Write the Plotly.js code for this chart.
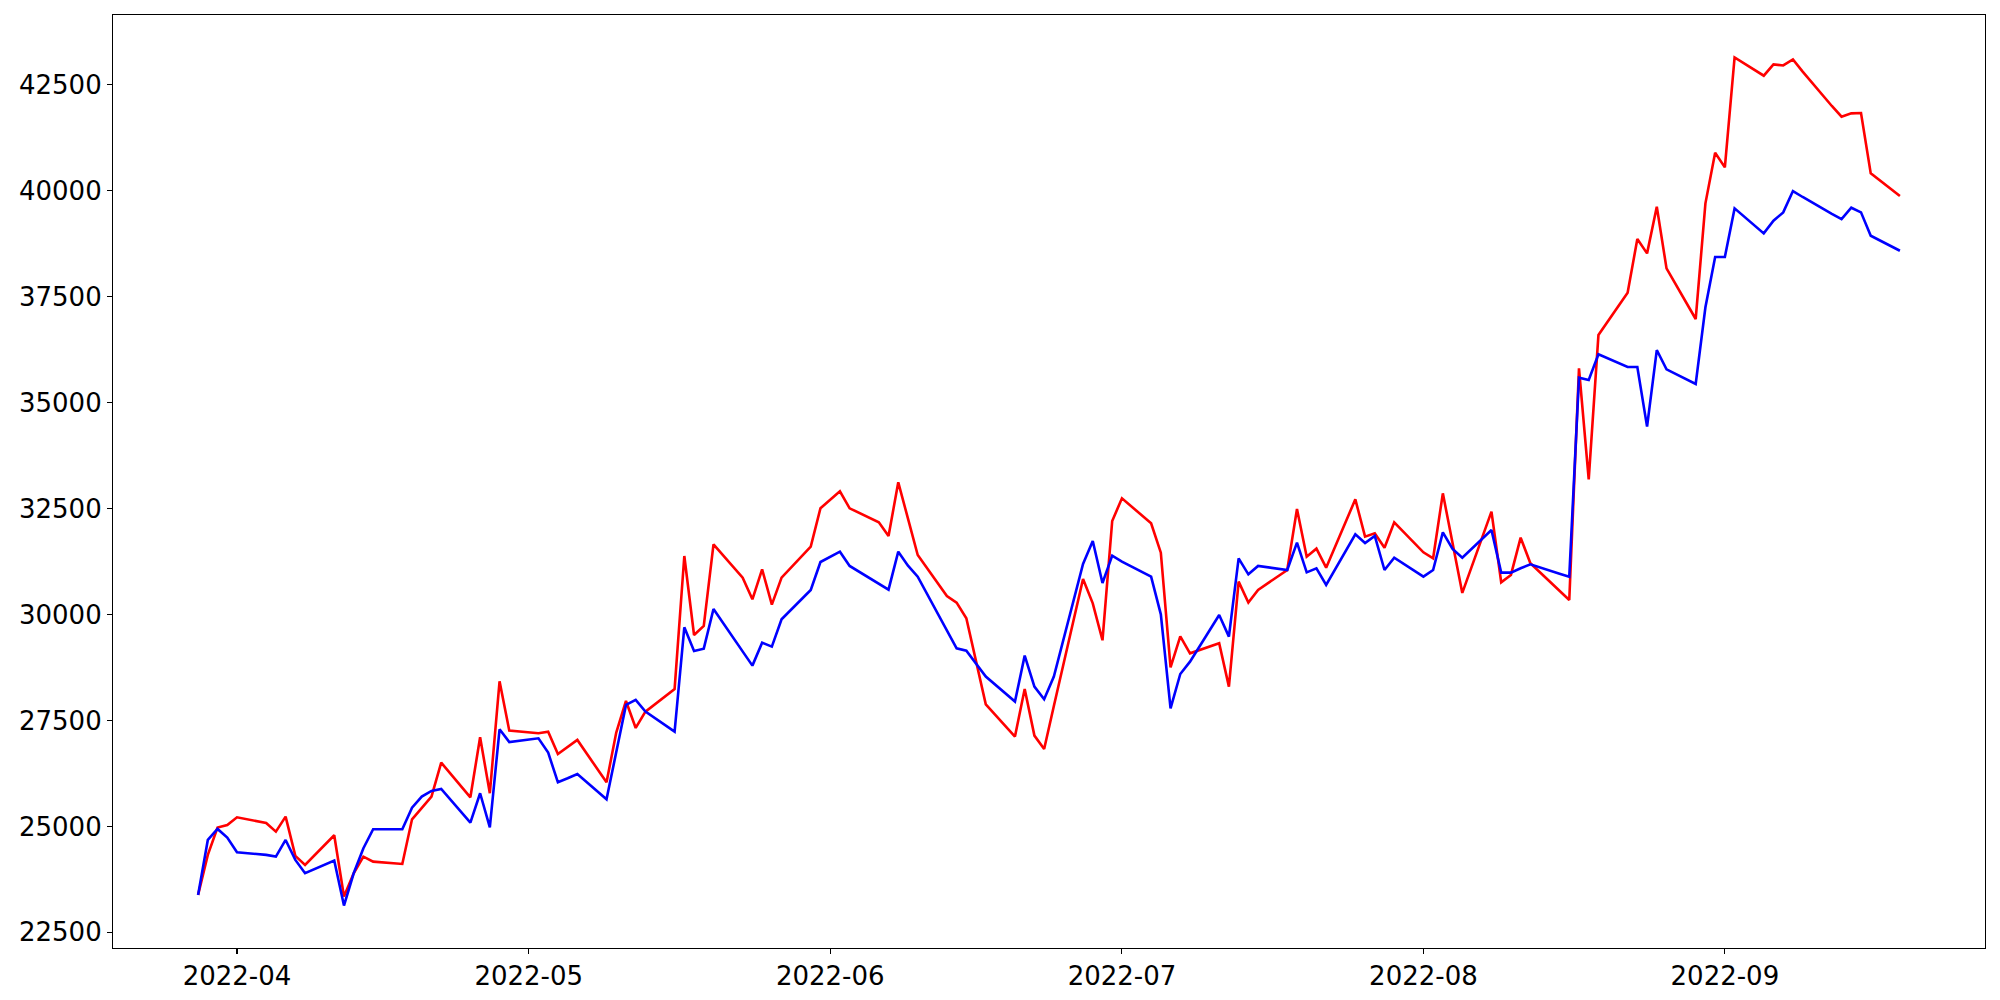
<!DOCTYPE html>
<html>
<head>
<meta charset="utf-8">
<script src="https://cdn.plot.ly/plotly-3.0.1.min.js"></script>
<style>
  html, body { margin: 0; padding: 0; background: #ffffff; }
  #chart { width: 2000px; height: 1000px; }
</style>
</head>
<body>
<div id="chart"></div>
<script>
// Trading dates (weekdays)
const dates = [
  "2022-03-28","2022-03-29","2022-03-30","2022-03-31","2022-04-01",
  "2022-04-04","2022-04-05","2022-04-06","2022-04-07","2022-04-08",
  "2022-04-11","2022-04-12","2022-04-13","2022-04-14","2022-04-15",
  "2022-04-18","2022-04-19","2022-04-20","2022-04-21","2022-04-22",
  "2022-04-25","2022-04-26","2022-04-27","2022-04-28","2022-04-29",
  "2022-05-02","2022-05-03","2022-05-04","2022-05-05","2022-05-06",
  "2022-05-09","2022-05-10","2022-05-11","2022-05-12","2022-05-13",
  "2022-05-16","2022-05-17","2022-05-18","2022-05-19","2022-05-20",
  "2022-05-23","2022-05-24","2022-05-25","2022-05-26","2022-05-27",
  "2022-05-30","2022-05-31","2022-06-01","2022-06-02","2022-06-03",
  "2022-06-06","2022-06-07","2022-06-08","2022-06-09","2022-06-10",
  "2022-06-13","2022-06-14","2022-06-15","2022-06-16","2022-06-17",
  "2022-06-20","2022-06-21","2022-06-22","2022-06-23","2022-06-24",
  "2022-06-27","2022-06-28","2022-06-29","2022-06-30","2022-07-01",
  "2022-07-04","2022-07-05","2022-07-06","2022-07-07","2022-07-08",
  "2022-07-11","2022-07-12","2022-07-13","2022-07-14","2022-07-15",
  "2022-07-18","2022-07-19","2022-07-20","2022-07-21","2022-07-22",
  "2022-07-25","2022-07-26","2022-07-27","2022-07-28","2022-07-29",
  "2022-08-01","2022-08-02","2022-08-03","2022-08-04","2022-08-05",
  "2022-08-08","2022-08-09","2022-08-10","2022-08-11","2022-08-12",
  "2022-08-15","2022-08-16","2022-08-17","2022-08-18","2022-08-19",
  "2022-08-22","2022-08-23","2022-08-24","2022-08-25","2022-08-26",
  "2022-08-29","2022-08-30","2022-08-31","2022-09-01","2022-09-02",
  "2022-09-05","2022-09-06","2022-09-07","2022-09-08","2022-09-09",
  "2022-09-12","2022-09-13","2022-09-14","2022-09-15","2022-09-16",
  "2022-09-19"
];

// Red series
const redValues = [
  23383, 24327, 24971, 25034, 25215,
  25082, 24877, 25231, 24303, 24091,
  24791, 23344, 23894, 24287, 24169,
  24114, 25168, 25428, 25703, 26505,
  25687, 27103, 25782, 28424, 27260,
  27197, 27237, 26710, 26875, 27040,
  26041, 27213, 27960, 27323, 27709,
  28243, 31382, 29517, 29730, 31657,
  30870, 30359, 31067, 30233, 30870,
  31602, 32510, 32703, 32908, 32507,
  32176, 31854, 33120, 32263, 31405,
  30438, 30281, 29911, 28897, 27882,
  27119, 28244, 27143, 26828, 27843,
  30839, 30265, 29392, 32208, 32743,
  32153, 31460, 28755, 29486, 29085,
  29321, 28299, 30776, 30281, 30580,
  31051, 32491, 31366, 31555, 31106,
  32719, 31838, 31917, 31578, 32176,
  31468, 31327, 32860, 31688, 30510,
  32428, 30761, 30934, 31814, 31209,
  30564, 30344, 35810, 33191, 36596,
  37595, 38862, 38523, 39626, 38169,
  36974, 39703, 40899, 40553, 43148,
  42716, 42983, 42959, 43101, 42814,
  42002, 41748, 41827, 41835, 40411,
  39876
];

// Blue series
const blueValues = [
  23383, 24680, 24940, 24736, 24390,
  24327, 24287, 24680, 24209, 23894,
  24193, 23131, 23894, 24484, 24932,
  24932, 25443, 25703, 25837, 25884,
  25089, 25782, 24979, 27292, 26990,
  27079, 26741, 26041, 26136, 26238,
  25640, 26749, 27866, 27984, 27709,
  27237, 29698, 29140, 29195, 30131,
  29124, 28794, 29337, 29242, 29887,
  30580, 31240, 31366, 31484, 31146,
  30721, 30587, 31484, 31154, 30894,
  29620, 29203, 29148, 28841, 28535,
  27945, 29030, 28299, 28000, 28535,
  31193, 31736, 30745, 31390, 31248,
  30894, 30005, 27787, 28597, 28888,
  29990, 29478, 31327, 30949, 31146,
  31051, 31696, 30996, 31091, 30698,
  31893, 31688, 31854, 31051, 31342,
  30894, 31051, 31940, 31550, 31342,
  31995, 30989, 30989, 31091, 31185,
  30965, 30894, 35590, 35535, 36140,
  35841, 35841, 34434, 36242, 35786,
  35440, 37250, 38437, 38437, 39585,
  38995, 39294, 39491, 39994, 39854,
  39458, 39334, 39601, 39491, 38940,
  38586
];

// y tick labels
const yTickValues = [22500, 25000, 27500, 30000, 32500, 35000, 37500, 40000, 42500];

// Axis ranges with 5% margins (matplotlib default)
const tms = dates.map(d => Date.parse(d + "T00:00:00Z"));
const tmin = Math.min(...tms), tmax = Math.max(...tms);
const tpad = (tmax - tmin) * 0.05;
const allV = redValues.concat(blueValues);
const vmin = Math.min(...allV), vmax = Math.max(...allV);
const vpad = (vmax - vmin) * 0.05;
const toISO = ms => new Date(ms).toISOString().replace("T", " ").replace("Z", "");

const traces = [
  { type: "scatter", mode: "lines", x: dates, y: redValues,
    line: { color: "#ff0000", width: 2.6 }, showlegend: false, hoverinfo: "skip" },
  { type: "scatter", mode: "lines", x: dates, y: blueValues,
    line: { color: "#0000ff", width: 2.6 }, showlegend: false, hoverinfo: "skip" }
];

const font = { family: "DejaVu Sans, sans-serif", color: "#000000" };

const layout = {
  width: 2000, height: 1000,
  paper_bgcolor: "#ffffff", plot_bgcolor: "#ffffff",
  margin: { l: 113, r: 15, t: 15, b: 52, pad: 0 },
  showlegend: false,
  font: font,
  xaxis: {
    type: "date",
    range: [toISO(tmin - tpad), toISO(tmax + tpad)],
    tick0: "2022-04-01", dtick: "M1", tickformat: "%Y-%m",
    ticks: "outside", ticklen: 5, tickwidth: 1.1, tickcolor: "#000000",
    showline: true, mirror: true, linecolor: "#000000", linewidth: 1.1,
    showgrid: false, zeroline: false,
    tickfont: { family: "DejaVu Sans, sans-serif", size: 26, color: "#000000" }
  },
  yaxis: {
    range: [vmin - vpad, vmax + vpad],
    tickmode: "array", tickvals: yTickValues,
    ticktext: yTickValues.map(v => String(v)),
    ticks: "outside", ticklen: 5, tickwidth: 1.1, tickcolor: "#000000",
    showline: true, mirror: true, linecolor: "#000000", linewidth: 1.1,
    showgrid: false, zeroline: false,
    tickfont: { family: "DejaVu Sans, sans-serif", size: 26, color: "#000000" }
  }
};

Plotly.newPlot("chart", traces, layout, { displayModeBar: false, staticPlot: true });
</script>
</body>
</html>
